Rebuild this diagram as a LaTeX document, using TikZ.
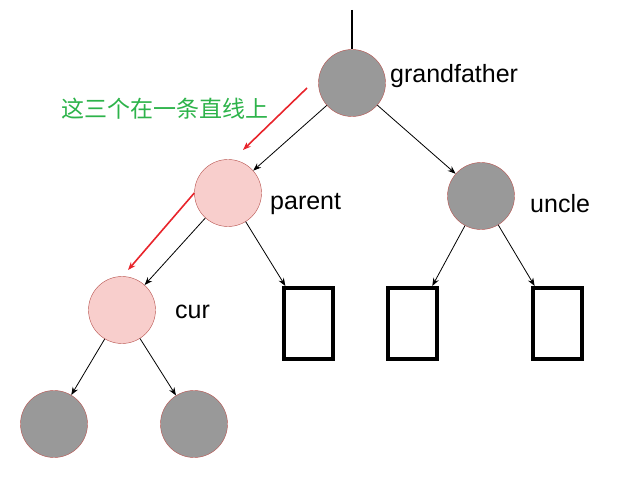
\documentclass[tikz,border=0pt]{standalone}
\usepackage{fontspec}
\setmainfont{Liberation Sans}
\newfontfamily\cjk{Noto Sans CJK SC}
\usepackage{xcolor}
\usepackage{tikz}
\usetikzlibrary{arrows.meta, positioning}
\definecolor{nodegray}{HTML}{999999}
\definecolor{nodepink}{HTML}{F8CECC}
\definecolor{nodeline}{HTML}{B85450}
\definecolor{notegreen}{HTML}{2DB34A}
\definecolor{hintred}{HTML}{E8242B}

\begin{document}
\begin{tikzpicture}[x=1pt, y=-1pt, >={Stealth[length=8pt, width=6pt]},
  blacknode/.style={circle, draw=nodeline, fill=nodegray, minimum size=67pt, inner sep=0pt},
  rednode/.style={circle, draw=nodeline, fill=nodepink, minimum size=67pt, inner sep=0pt},
  leaf/.style={rectangle, draw, line width=4pt, minimum width=49pt, minimum height=71pt, inner sep=0pt},
  lbl/.style={anchor=west, inner sep=0pt, font=\fontsize{25}{30}\selectfont},
  edge/.style={->, line width=0.8pt},
  hint/.style={->, hintred, line width=1.6pt}]
  \useasboundingbox (0,0) rectangle (622,492);

  % Tree nodes
  \node[blacknode] (gf) at (352,83) {};
  \node[rednode] (parent) at (228,193) {};
  \node[blacknode] (uncle) at (481,196) {};
  \node[rednode] (cur) at (122,310) {};
  \node[leaf] (pleaf) at (308.5,323.5) {};
  \node[leaf] (uleft) at (412,323.5) {};
  \node[leaf] (uright) at (557,323.5) {};
  \node[blacknode] (cleft) at (54,424) {};
  \node[blacknode] (cright) at (194,424) {};

  % Labels
  \node[lbl] (gflbl) at (390,76) {grandfather};
  \node[lbl] (parentlbl) at (270,204) {parent};
  \node[lbl] (unclelbl) at (530,204) {uncle};
  \node[lbl] (curlbl) at (175,312) {cur};
  \node[inner sep=0pt, text=notegreen, font=\cjk\fontsize{23}{27}\selectfont] (note) at (165,109) {这三个在一条直线上};

  % Edges
  \coordinate (root) at (352,10);
  \draw[line width=1.2pt] (root) -- (gf);
  \draw[edge] (gf) -- (parent);
  \draw[edge] (gf) -- (uncle);
  \draw[edge] (parent) -- (cur);
  \draw[edge] (parent) -- (pleaf);
  \draw[edge] (uncle) -- (uleft);
  \draw[edge] (uncle) -- (uright);
  \draw[edge] (cur) -- (cleft);
  \draw[edge] (cur) -- (cright);

  % Line hints
  \coordinate (h1s) at (307,88);
  \coordinate (h1e) at (243,150);
  \coordinate (h2e) at (128,270);
  \draw[hint] (h1s) -- (h1e);
  \draw[hint] (parent.west) -- (h2e);
\end{tikzpicture}
\end{document}
